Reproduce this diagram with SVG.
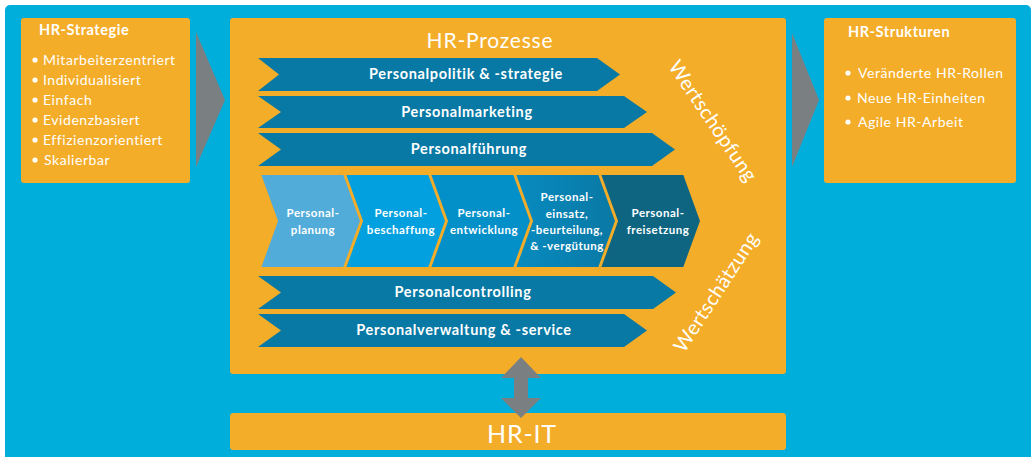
<svg xmlns="http://www.w3.org/2000/svg" width="1036" height="457" viewBox="0 0 1036 457">
<defs>
<style>
.box{fill:#F4AD29}
.gray{fill:#7A7F82}
.ban{fill:#0779A4}
.t{font-family:Lato,"Open Sans",sans-serif;fill:#fff;letter-spacing:0.55px}
.bt{font-family:Lato,"Open Sans",sans-serif;fill:#fff;font-weight:bold;font-size:14.5px;text-anchor:middle;letter-spacing:0.65px}
.ct{font-family:Lato,"Open Sans",sans-serif;fill:#fff;font-weight:bold;font-size:11.5px;text-anchor:middle;letter-spacing:0.5px}
.li{font-size:14px}
.chev{stroke:#F4AD29;stroke-width:2;stroke-linejoin:miter}
</style>
<linearGradient id="g4" x1="0" y1="0" x2="1" y2="0">
<stop offset="0" stop-color="#078BC0"/>
<stop offset="1" stop-color="#0A78A4"/>
</linearGradient>
</defs>
<rect x="0" y="0" width="1036" height="457" fill="#fff"/>
<rect x="5" y="5" width="1026" height="460" rx="5" fill="#00AEDB"/>

<g id="hr-strategie">
<rect class="box" x="21" y="18" width="169" height="165" rx="3"/>
<text class="t" x="39" y="35" font-size="14.5" font-weight="bold">HR-Strategie</text>
<g class="t li">
<circle cx="35" cy="60" r="2.6" fill="#fff"/><text x="43" y="65">Mitarbeiterzentriert</text>
<circle cx="35" cy="80" r="2.6" fill="#fff"/><text x="43" y="85">Individualisiert</text>
<circle cx="35" cy="100" r="2.6" fill="#fff"/><text x="43" y="105">Einfach</text>
<circle cx="35" cy="120" r="2.6" fill="#fff"/><text x="43" y="125">Evidenzbasiert</text>
<circle cx="35" cy="140" r="2.6" fill="#fff"/><text x="43" y="145">Effizienzorientiert</text>
<circle cx="35" cy="160" r="2.6" fill="#fff"/><text x="44" y="165">Skalierbar</text>
</g>
</g>

<g id="hr-prozesse">
<rect class="box" x="230" y="18" width="556" height="356" rx="3"/>
<text class="t" x="490" y="48" font-size="21" text-anchor="middle" style="letter-spacing:0.8px">HR-Prozesse</text>
</g>

<g id="personalpolitik">
<polygon class="ban" points="258,58 597,58 620,74.5 597,91 258,91 279,74.5"/>
<text class="bt" x="466" y="79">Personalpolitik &amp; -strategie</text>
</g>
<g id="personalmarketing">
<polygon class="ban" points="258,96 624,96 647,112 624,128 258,128 281,112"/>
<text class="bt" x="467" y="117">Personalmarketing</text>
</g>
<g id="personalfuehrung">
<polygon class="ban" points="258,133 652,133 675,149.5 652,166 258,166 281,149.5"/>
<text class="bt" x="469" y="154">Personalführung</text>
</g>

<g id="personalplanung">
<polygon class="chev" fill="#51ACD9" points="260,174 344,174 361,221 344,268 260,268 277,221"/>
<text class="ct"><tspan x="313" y="217">Personal-</tspan><tspan x="313" y="234">planung</tspan></text>
</g>
<g id="personalbeschaffung">
<polygon class="chev" fill="#02A0DE" points="345,174 429,174 446,221 429,268 345,268 362,221"/>
<text class="ct"><tspan x="401" y="217">Personal-</tspan><tspan x="401" y="234">beschaffung</tspan></text>
</g>
<g id="personalentwicklung">
<polygon class="chev" fill="#0390C9" points="430,174 514,174 531,221 514,268 430,268 447,221"/>
<text class="ct"><tspan x="484" y="217">Personal-</tspan><tspan x="484" y="234">entwicklung</tspan></text>
</g>
<g id="personaleinsatz">
<polygon class="chev" fill="url(#g4)" points="515,174 599,174 616,221 599,268 515,268 532,221"/>
<text class="ct"><tspan x="567" y="201">Personal-</tspan><tspan x="567" y="218">einsatz,</tspan><tspan x="567" y="234">-beurteilung,</tspan><tspan x="567" y="250">&amp; -vergütung</tspan></text>
</g>
<g id="personalfreisetzung">
<polygon class="chev" fill="#0D6582" points="600,174 684,174 701,221 684,268 600,268 617,221"/>
<text class="ct"><tspan x="658" y="217">Personal-</tspan><tspan x="658" y="234">freisetzung</tspan></text>
</g>

<g id="personalcontrolling">
<polygon class="ban" points="258,276 653,276 676,292.5 653,309 258,309 281,292.5"/>
<text class="bt" x="463" y="297">Personalcontrolling</text>
</g>
<g id="personalverwaltung">
<polygon class="ban" points="258,314 624,314 647,330.5 624,347 258,347 281,330.5"/>
<text class="bt" x="464" y="335">Personalverwaltung &amp; -service</text>
</g>

<g id="wertschoepfung">
<text class="t" font-size="20" text-anchor="middle" transform="translate(713,121) rotate(56)" dy="7" style="letter-spacing:0.4px">Wertschöpfung</text>
</g>
<g id="wertschaetzung">
<text class="t" font-size="20" text-anchor="middle" transform="translate(716,292) rotate(-57)" dy="7" style="letter-spacing:0.4px">Wertschätzung</text>
</g>

<g id="hr-strukturen">
<rect class="box" x="824" y="18" width="192" height="165" rx="3"/>
<text class="t" x="848" y="37" font-size="14.5" font-weight="bold">HR-Strukturen</text>
<g class="t li">
<circle cx="848" cy="73" r="2.6" fill="#fff"/><text x="858" y="78">Veränderte HR-Rollen</text>
<circle cx="848" cy="98" r="2.6" fill="#fff"/><text x="857" y="103">Neue HR-Einheiten</text>
<circle cx="848" cy="122" r="2.6" fill="#fff"/><text x="858" y="127">Agile HR-Arbeit</text>
</g>
</g>

<g id="hr-it">
<rect class="box" x="230" y="413" width="556" height="37" rx="3"/>
<text class="t" x="522" y="443" font-size="25" text-anchor="middle" style="letter-spacing:0.8px">HR-IT</text>
</g>

<g id="connectors">
<polygon class="gray" points="196,32 225,100 196,167"/>
<polygon class="gray" points="792,33 819,100 792,167"/>
<polygon class="gray" points="521,357 541,378 528,378 528,398 541,398 521,418 501,398 514,398 514,378 501,378"/>
</g>
</svg>
